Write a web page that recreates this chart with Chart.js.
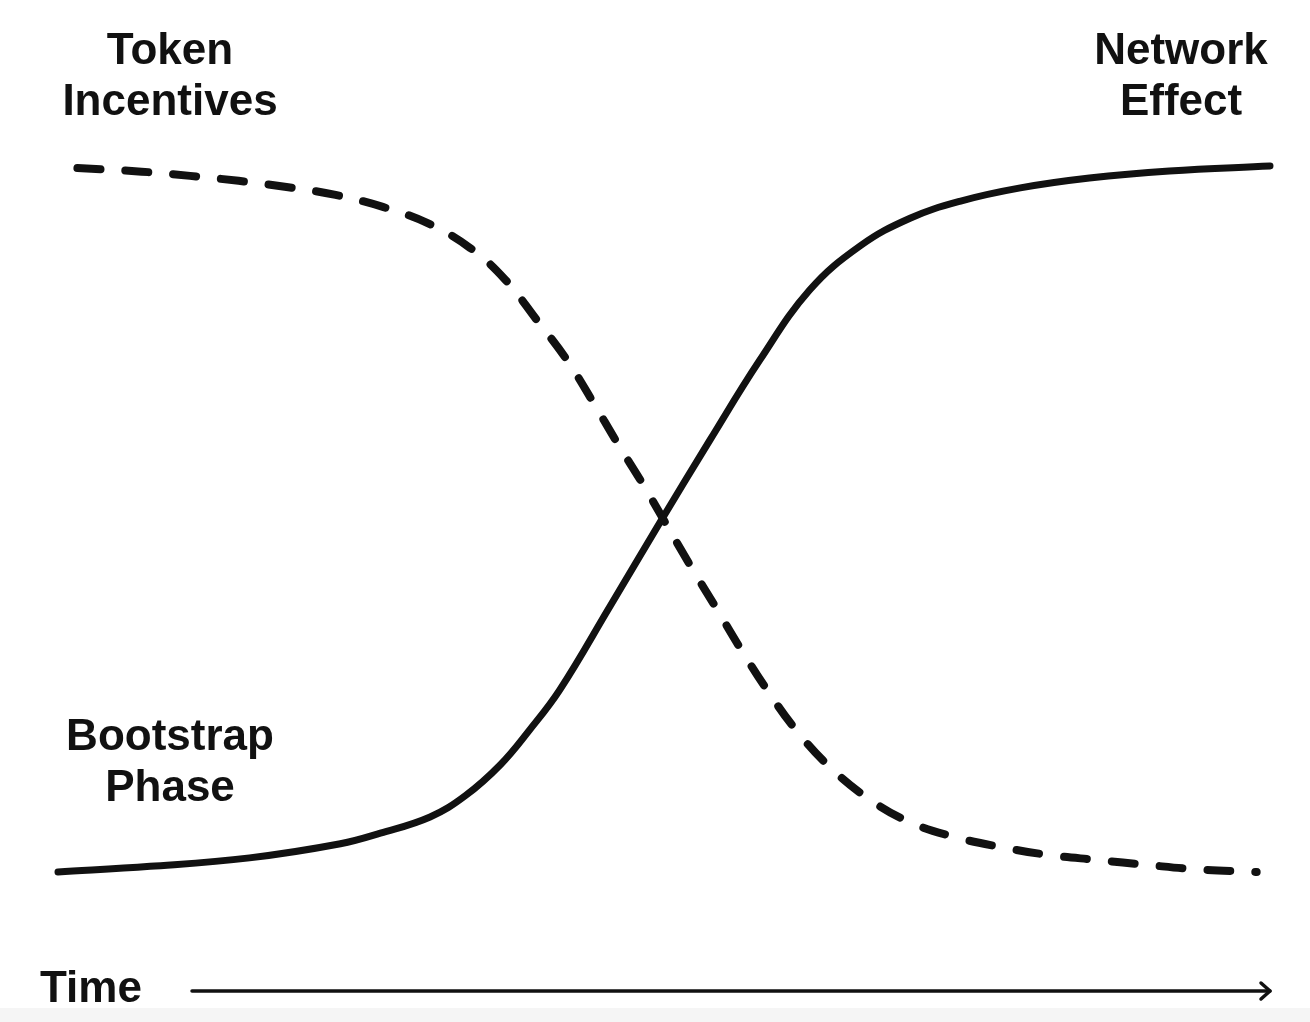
<!DOCTYPE html>
<html>
<head>
<meta charset="utf-8">
<title>Token Incentives vs Network Effect</title>
<script src="https://cdn.jsdelivr.net/npm/chart.js@4.4.1/dist/chart.umd.min.js"></script>
<style>
  html, body { margin: 0; padding: 0; background: #fff; }
  #wrap { width: 1310px; height: 1022px; position: relative; }
</style>
</head>
<body>
<div id="wrap"><canvas id="curves" width="1310" height="1022"></canvas></div>
<script>
// ---------- Data (time 0..100, level 0..100) ----------
const networkTime  = [0, 7.6, 15.8, 23.3, 26.6, 30.7, 33.6, 36.5, 38.9, 41.4, 45.5, 49.7, 53.8, 57.9, 62.0, 66.2, 70.3, 74.4, 79.4, 85.1, 91.7, 100];
const networkLevel = [0, 0.8, 2.0, 4.0, 5.5, 7.8, 10.8, 15.2, 20.1, 25.8, 37.5, 49.6, 61.2, 72.5, 82.4, 88.7, 92.6, 95.0, 96.9, 98.3, 99.3, 100];

const tokenTime  = [1.6, 6.9, 10.9, 14.9, 19.0, 22.9, 26.8, 30.5, 34.0, 36.9, 39.5, 42.0, 44.1, 46.1, 48.2, 49.9, 52.1, 54.3, 56.4, 58.5, 60.9, 63.6, 66.7, 70.1, 73.9, 77.9, 81.8, 85.8, 89.9, 93.8, 98.9];
const tokenLevel = [99.7, 99.2, 98.6, 97.9, 97.0, 95.9, 94.2, 91.9, 88.4, 83.9, 78.2, 72.5, 66.7, 60.9, 55.1, 50.1, 43.6, 37.4, 31.4, 25.8, 20.1, 15.0, 10.6, 7.2, 5.0, 3.5, 2.4, 1.7, 1.0, 0.4, 0];

const cornerLabels = {
  tokens:    ['Token', 'Incentives'],
  network:   ['Network', 'Effect'],
  bootstrap: ['Bootstrap', 'Phase'],
  axis:      'Time',
};

const INK = '#111111';
const FONT = 'bold 44px "Liberation Sans", Arial, sans-serif';

const toPoints = (xs, ys) => xs.map((x, i) => ({ x, y: ys[i] }));

// ---------- Labels + time arrow ----------
const annotations = {
  id: 'annotations',
  beforeDraw(chart) {
    const { ctx, width, height } = chart;
    ctx.save();
    ctx.fillStyle = '#f5f5f5';
    ctx.fillRect(0, height - 14, width, 14);
    ctx.restore();
  },
  afterDraw(chart) {
    const { ctx, chartArea: a } = chart;
    ctx.save();
    ctx.fillStyle = INK;
    ctx.font = FONT;
    ctx.textAlign = 'center';
    ctx.textBaseline = 'alphabetic';

    const block = (lines, cx, baseY) =>
      lines.forEach((t, i) => ctx.fillText(t, cx, baseY + i * 51));

    block(cornerLabels.tokens, 170, 64);
    block(cornerLabels.network, 1181, 64);
    block(cornerLabels.bootstrap, 170, 750);

    ctx.textAlign = 'left';
    ctx.fillText(cornerLabels.axis, 40, 1002);

    // time arrow under the plot
    const y = a.bottom + 119;
    const x0 = 192, x1 = a.right;
    ctx.strokeStyle = INK;
    ctx.lineWidth = 3.5;
    ctx.lineCap = 'round';
    ctx.lineJoin = 'round';
    ctx.beginPath();
    ctx.moveTo(x0, y);
    ctx.lineTo(x1, y);
    ctx.stroke();
    ctx.beginPath();
    ctx.moveTo(x1 - 9, y - 8);
    ctx.lineTo(x1, y);
    ctx.lineTo(x1 - 9, y + 8);
    ctx.stroke();
    ctx.restore();
  },
};

// ---------- Chart ----------
function init() {
  const ctx = document.getElementById('curves').getContext('2d');
  new Chart(ctx, {
    type: 'line',
    data: {
      datasets: [
        {
          label: 'Token Incentives',
          data: toPoints(tokenTime, tokenLevel),
          borderColor: INK,
          borderWidth: 8,
          borderDash: [23, 25],
          borderCapStyle: 'round',
          tension: 0.4,
          pointRadius: 0,
          clip: false,
        },
        {
          label: 'Network Effect',
          data: toPoints(networkTime, networkLevel),
          borderColor: INK,
          borderWidth: 7,
          borderCapStyle: 'round',
          tension: 0.4,
          pointRadius: 0,
          clip: false,
        },
      ],
    },
    options: {
      responsive: false,
      animation: false,
      layout: { padding: { left: 58, right: 40, top: 166, bottom: 150 } },
      plugins: { legend: { display: false }, tooltip: { enabled: false } },
      scales: {
        x: { type: 'linear', min: 0, max: 100, display: false },
        y: { type: 'linear', min: 0, max: 100, display: false },
      },
    },
    plugins: [annotations],
  });
}

document.addEventListener('DOMContentLoaded', init);
</script>
</body>
</html>
